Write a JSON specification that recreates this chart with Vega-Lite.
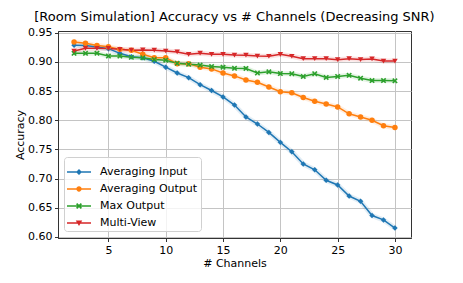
{
  "$schema": "https://vega.github.io/schema/vega-lite/v6.json",
  "autosize": "none",
  "width": 353,
  "height": 207,
  "padding": {"left": 58, "top": 31, "right": 52, "bottom": 45},
  "background": "white",
  "title": {"text": "[Room Simulation] Accuracy vs # Channels (Decreasing SNR)", "fontSize": 13, "font": "DejaVu Sans", "fontWeight": "normal", "color": "black", "offset": 3},
  "config": {
    "font": "DejaVu Sans",
    "view": {"stroke": "#333333", "strokeWidth": 1},
    "axis": {"domainColor": "#333333", "tickColor": "#333333", "tickSize": 3.5, "labelFontSize": 11, "labelColor": "black", "labelFont": "DejaVu Sans", "titleFont": "DejaVu Sans", "titleFontSize": 11, "titleFontWeight": "normal", "titleColor": "black", "gridColor": "#c4c4c4", "gridWidth": 1}
  },
  "data": {"values": [
    {"n":2,"method":"Averaging Input","acc":0.9285},{"n":3,"method":"Averaging Input","acc":0.928},{"n":4,"method":"Averaging Input","acc":0.9255},{"n":5,"method":"Averaging Input","acc":0.9227},{"n":6,"method":"Averaging Input","acc":0.9147},{"n":7,"method":"Averaging Input","acc":0.909},{"n":8,"method":"Averaging Input","acc":0.907},{"n":9,"method":"Averaging Input","acc":0.901},{"n":10,"method":"Averaging Input","acc":0.891},{"n":11,"method":"Averaging Input","acc":0.881},{"n":12,"method":"Averaging Input","acc":0.873},{"n":13,"method":"Averaging Input","acc":0.861},{"n":14,"method":"Averaging Input","acc":0.851},{"n":15,"method":"Averaging Input","acc":0.84},{"n":16,"method":"Averaging Input","acc":0.826},{"n":17,"method":"Averaging Input","acc":0.8055},{"n":18,"method":"Averaging Input","acc":0.7935},{"n":19,"method":"Averaging Input","acc":0.779},{"n":20,"method":"Averaging Input","acc":0.762},{"n":21,"method":"Averaging Input","acc":0.746},{"n":22,"method":"Averaging Input","acc":0.725},{"n":23,"method":"Averaging Input","acc":0.715},{"n":24,"method":"Averaging Input","acc":0.697},{"n":25,"method":"Averaging Input","acc":0.689},{"n":26,"method":"Averaging Input","acc":0.67},{"n":27,"method":"Averaging Input","acc":0.661},{"n":28,"method":"Averaging Input","acc":0.6365},{"n":29,"method":"Averaging Input","acc":0.629},{"n":30,"method":"Averaging Input","acc":0.615},
    {"n":2,"method":"Averaging Output","acc":0.934},{"n":3,"method":"Averaging Output","acc":0.932},{"n":4,"method":"Averaging Output","acc":0.928},{"n":5,"method":"Averaging Output","acc":0.926},{"n":6,"method":"Averaging Output","acc":0.9215},{"n":7,"method":"Averaging Output","acc":0.92},{"n":8,"method":"Averaging Output","acc":0.913},{"n":9,"method":"Averaging Output","acc":0.907},{"n":10,"method":"Averaging Output","acc":0.907},{"n":11,"method":"Averaging Output","acc":0.897},{"n":12,"method":"Averaging Output","acc":0.897},{"n":13,"method":"Averaging Output","acc":0.891},{"n":14,"method":"Averaging Output","acc":0.888},{"n":15,"method":"Averaging Output","acc":0.881},{"n":16,"method":"Averaging Output","acc":0.876},{"n":17,"method":"Averaging Output","acc":0.869},{"n":18,"method":"Averaging Output","acc":0.865},{"n":19,"method":"Averaging Output","acc":0.857},{"n":20,"method":"Averaging Output","acc":0.849},{"n":21,"method":"Averaging Output","acc":0.847},{"n":22,"method":"Averaging Output","acc":0.839},{"n":23,"method":"Averaging Output","acc":0.8325},{"n":24,"method":"Averaging Output","acc":0.8277},{"n":25,"method":"Averaging Output","acc":0.8228},{"n":26,"method":"Averaging Output","acc":0.811},{"n":27,"method":"Averaging Output","acc":0.8055},{"n":28,"method":"Averaging Output","acc":0.8},{"n":29,"method":"Averaging Output","acc":0.7905},{"n":30,"method":"Averaging Output","acc":0.7876},
    {"n":2,"method":"Max Output","acc":0.9147},{"n":3,"method":"Max Output","acc":0.9147},{"n":4,"method":"Max Output","acc":0.915},{"n":5,"method":"Max Output","acc":0.91},{"n":6,"method":"Max Output","acc":0.91},{"n":7,"method":"Max Output","acc":0.908},{"n":8,"method":"Max Output","acc":0.907},{"n":9,"method":"Max Output","acc":0.904},{"n":10,"method":"Max Output","acc":0.903},{"n":11,"method":"Max Output","acc":0.8975},{"n":12,"method":"Max Output","acc":0.896},{"n":13,"method":"Max Output","acc":0.8945},{"n":14,"method":"Max Output","acc":0.892},{"n":15,"method":"Max Output","acc":0.891},{"n":16,"method":"Max Output","acc":0.889},{"n":17,"method":"Max Output","acc":0.8888},{"n":18,"method":"Max Output","acc":0.881},{"n":19,"method":"Max Output","acc":0.883},{"n":20,"method":"Max Output","acc":0.88},{"n":21,"method":"Max Output","acc":0.8797},{"n":22,"method":"Max Output","acc":0.875},{"n":23,"method":"Max Output","acc":0.8797},{"n":24,"method":"Max Output","acc":0.8733},{"n":25,"method":"Max Output","acc":0.875},{"n":26,"method":"Max Output","acc":0.877},{"n":27,"method":"Max Output","acc":0.872},{"n":28,"method":"Max Output","acc":0.868},{"n":29,"method":"Max Output","acc":0.868},{"n":30,"method":"Max Output","acc":0.8676},
    {"n":2,"method":"Multi-View","acc":0.9187},{"n":3,"method":"Multi-View","acc":0.9233},{"n":4,"method":"Multi-View","acc":0.9233},{"n":5,"method":"Multi-View","acc":0.923},{"n":6,"method":"Multi-View","acc":0.9215},{"n":7,"method":"Multi-View","acc":0.92},{"n":8,"method":"Multi-View","acc":0.9205},{"n":9,"method":"Multi-View","acc":0.92},{"n":10,"method":"Multi-View","acc":0.9187},{"n":11,"method":"Multi-View","acc":0.917},{"n":12,"method":"Multi-View","acc":0.913},{"n":13,"method":"Multi-View","acc":0.915},{"n":14,"method":"Multi-View","acc":0.913},{"n":15,"method":"Multi-View","acc":0.913},{"n":16,"method":"Multi-View","acc":0.9117},{"n":17,"method":"Multi-View","acc":0.9115},{"n":18,"method":"Multi-View","acc":0.91},{"n":19,"method":"Multi-View","acc":0.9097},{"n":20,"method":"Multi-View","acc":0.913},{"n":21,"method":"Multi-View","acc":0.9097},{"n":22,"method":"Multi-View","acc":0.9055},{"n":23,"method":"Multi-View","acc":0.9055},{"n":24,"method":"Multi-View","acc":0.9055},{"n":25,"method":"Multi-View","acc":0.9038},{"n":26,"method":"Multi-View","acc":0.9055},{"n":27,"method":"Multi-View","acc":0.904},{"n":28,"method":"Multi-View","acc":0.905},{"n":29,"method":"Multi-View","acc":0.9015},{"n":30,"method":"Multi-View","acc":0.9015}
  ]},
  "encoding": {
    "x": {"field": "n", "type": "quantitative", "scale": {"domain": [0.6, 31.4], "nice": false, "zero": false},
      "axis": {"title": "# Channels", "values": [5, 10, 15, 20, 25, 30], "labelPadding": 3, "titlePadding": 2, "grid": true}},
    "y": {"field": "acc", "type": "quantitative", "scale": {"domain": [0.598, 0.953], "nice": false, "zero": false},
      "axis": {"title": "Accuracy", "values": [0.6, 0.65, 0.7, 0.75, 0.8, 0.85, 0.9, 0.95], "format": ".2f", "labelPadding": 2.5, "titlePadding": 2, "grid": true}},
    "color": {"field": "method", "type": "nominal",
      "scale": {"domain": ["Averaging Input", "Averaging Output", "Max Output", "Multi-View"], "range": ["#1f77b4", "#ff7f0e", "#2ca02c", "#d62728"]},
      "legend": {
        "title": null, "orient": "none", "legendX": 6, "legendY": 126,
        "padding": 3, "rowPadding": 0, "labelFontSize": 11, "labelFont": "DejaVu Sans", "labelColor": "black", "labelOffset": 9,
        "strokeColor": "#d0d0d0", "fillColor": "rgba(255,255,255,0.8)", "cornerRadius": 3,
        "symbolSize": 576,
        "encode": {"symbols": {"update": {
          "size": {"value": 576},
          "opacity": {"value": 1},
          "strokeWidth": {"value": 0},
          "fill": {"signal": "datum.value == 'Averaging Input' ? '#1f77b4' : datum.value == 'Averaging Output' ? '#ff7f0e' : datum.value == 'Max Output' ? '#2ca02c' : '#d62728'"},
          "shape": {"signal": "datum.value == 'Averaging Input' ? 'M-1,-0.06L1,-0.06L1,0.06L-1,0.06ZM0,-0.25L0.25,0L0,0.25L-0.25,0Z' : datum.value == 'Averaging Output' ? 'M-1,-0.06L1,-0.06L1,0.06L-1,0.06ZM-0.22,0A0.22,0.22 0 1,1 0.22,0A0.22,0.22 0 1,1 -0.22,0Z' : datum.value == 'Max Output' ? 'M-1,-0.06L1,-0.06L1,0.06L-1,0.06ZM-0.25,-0.15L-0.15,-0.25L0,-0.1L0.15,-0.25L0.25,-0.15L0.1,0L0.25,0.15L0.15,0.25L0,0.1L-0.15,0.25L-0.25,0.15L-0.1,0Z' : 'M-1,-0.06L1,-0.06L1,0.06L-1,0.06ZM-0.27,-0.2L0.27,-0.2L0,0.25Z'"}
        }}}
      }
    }
  },
  "layer": [
    {"mark": {"type": "line", "strokeWidth": 5, "opacity": 0.13}},
    {"mark": {"type": "line", "strokeWidth": 1.5}},
    {"transform": [{"filter": "datum.method == 'Averaging Input'"}],
     "mark": {"type": "point", "filled": true, "opacity": 1, "size": 30, "strokeWidth": 0, "shape": "M0,-1L1,0L0,1L-1,0Z"}},
    {"transform": [{"filter": "datum.method == 'Averaging Output'"}],
     "mark": {"type": "point", "filled": true, "opacity": 1, "size": 30, "strokeWidth": 0, "shape": "circle"}},
    {"transform": [{"filter": "datum.method == 'Max Output'"}],
     "mark": {"type": "point", "filled": true, "opacity": 1, "size": 30, "strokeWidth": 0, "shape": "M-1,-0.6L-0.6,-1L0,-0.4L0.6,-1L1,-0.6L0.4,0L1,0.6L0.6,1L0,0.4L-0.6,1L-1,0.6L-0.4,0Z"}},
    {"transform": [{"filter": "datum.method == 'Multi-View'"}],
     "mark": {"type": "point", "filled": true, "opacity": 1, "size": 30, "strokeWidth": 0, "shape": "triangle-down"}}
  ]
}
